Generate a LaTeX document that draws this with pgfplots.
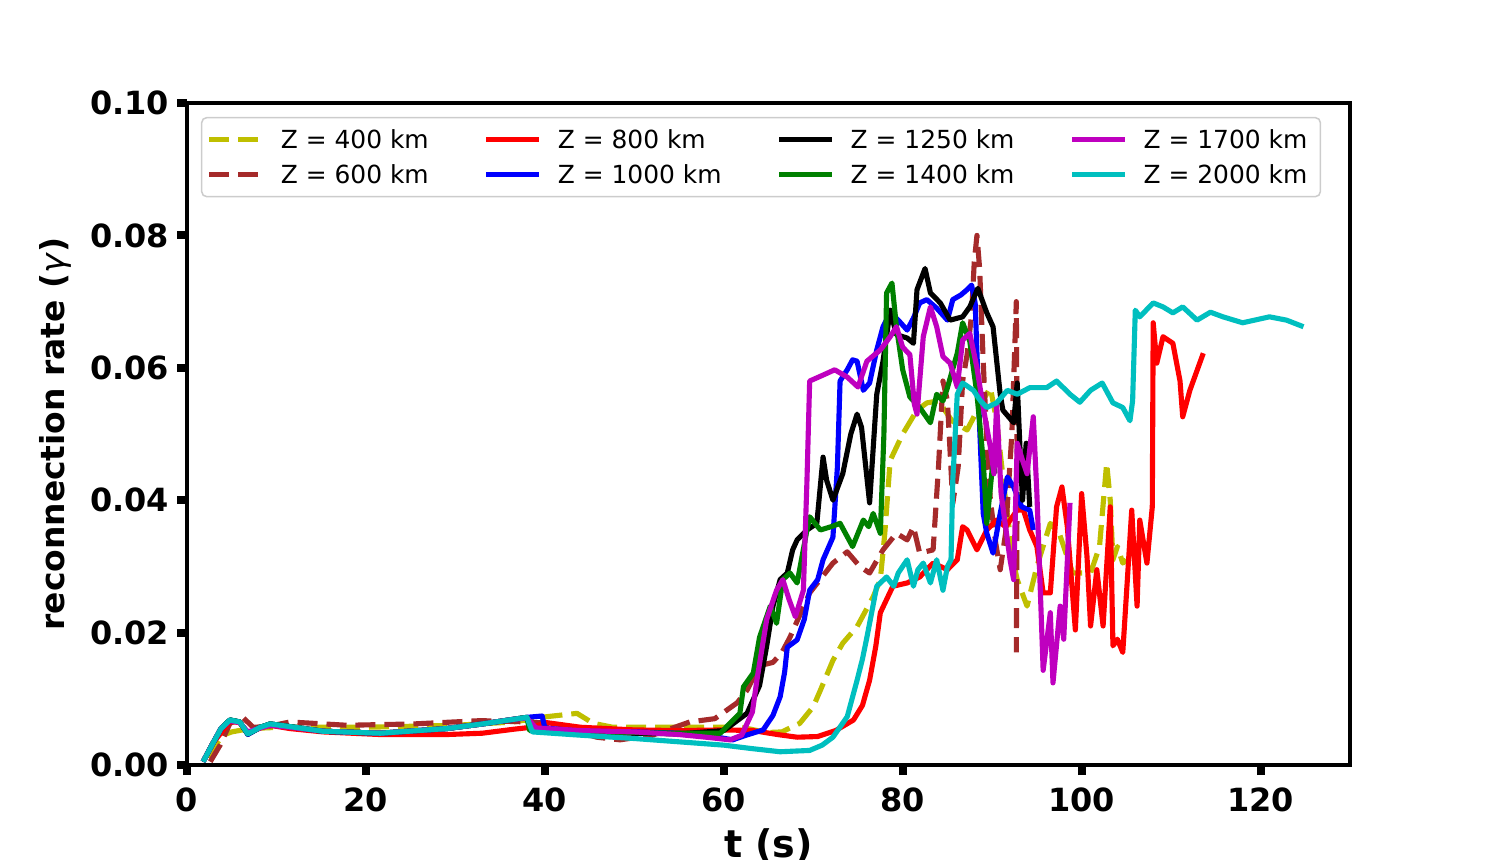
\documentclass[border=0pt]{standalone}
\usepackage{fontspec}
\setmainfont{DejaVu Sans}
\usepackage{pgfplots}
\pgfplotsset{compat=1.18}
\definecolor{cy}{rgb}{0.75,0.75,0}
\definecolor{brn}{RGB}{165,42,42}
\definecolor{grn}{RGB}{0,128,0}
\definecolor{mag}{rgb}{0.75,0,0.75}
\definecolor{cyn}{rgb}{0,0.75,0.75}
\begin{document}
\begin{tikzpicture}
\begin{axis}[
  at={(1.87in,0.95in)}, anchor=south west,
  scale only axis, width=11.63in, height=6.62in,
  xmin=0, xmax=130, ymin=0, ymax=0.1,
  xtick={0,20,...,120}, ytick={0,0.02,...,0.1},
  scaled y ticks=false,
  yticklabel style={/pgf/number format/fixed, /pgf/number format/fixed zerofill, /pgf/number format/precision=2, /tikz/xshift=-0.03in},
  xticklabel style={/tikz/yshift=-0.08in},
  /pgf/number format/assume math mode=true,
  ticklabel style={font=\fontsize{23.1}{27}\selectfont\bfseries},
  axis line style={line width=3.1pt},
  tick align=outside, major tick length=0.1in,
  every tick/.style={line width=0.08in, black},
  xtick pos=bottom, ytick pos=left,
  xlabel={t (s)}, ylabel={reconnection rate (\textmd{\textit{γ}})},
  xlabel style={font=\fontsize{27.5}{32}\selectfont\bfseries, at={(axis description cs:0.5,-0.121)}, anchor=center},
  ylabel style={font=\fontsize{23.8}{28}\selectfont\bfseries, at={(axis description cs:-0.1135,0.5)}, anchor=center, rotate=0},
  every axis plot/.append style={line width=3.7pt, line join=round},
  legend columns=4,
  legend cell align=left,
  legend image code/.code={\draw[#1] (0in,0in) -- (0.53in,0in); \path (0.61in,0in);},
  legend style={at={(0.012,0.979)}, anchor=north west, font=\fontsize{18}{22}\selectfont,
    draw=black!20, line width=1.1pt, rounded corners=0.05in, fill=white,
    inner xsep=0.05in, inner ysep=0.065in, row sep=0.04in,
    nodes={inner xsep=0.08in, inner ysep=0.05in},
    /tikz/every even column/.append style={column sep=0.47in}},
]
% Z = 400 km
\addplot[cy, dash pattern=on 0.2in off 0.09in, forget plot] coordinates {
(2.5,0.001)(3.2,0.003)(4,0.0045)(5,0.005)(7,0.0055)(10.4,0.0057)(20,0.0057)(30,0.006)(36.5,0.0065)(40.2,0.0073)(43.6,0.0078)(45.4,0.0063)(47.6,0.0057)(55,0.0057)(62,0.0057)(64.8,0.0049)(66.5,0.005)(68.5,0.0063)(70,0.0088)(70.8,0.0113)(72.2,0.0158)(73.3,0.0184)(74.9,0.0209)(76.7,0.0254)(77.5,0.028)(78,0.035)(78.6,0.046)(80,0.050)(81.6,0.0536)(82.7,0.0547)(84,0.055)(85.5,0.052)(87.2,0.0506)(88.5,0.054)(89.8,0.057)(90.5,0.052)(91.5,0.040)(92.4,0.0305)(92.8,0.028)(93.9,0.024)(95,0.030)(96.5,0.0365)(97.5,0.035)(99,0.029)(101,0.029)(102,0.033)(102.8,0.0456)(103.2,0.040)(103.5,0.031)(104,0.033)(104.6,0.0305)(105,0.031)
};
% Z = 600 km
\addplot[brn, dash pattern=on 0.2in off 0.09in, forget plot] coordinates {
(2.6,0.0005)(3.7,0.003)(4.8,0.0063)(6.3,0.0071)(7.4,0.0057)(9,0.0058)(11.5,0.0065)(17.9,0.006)(25.3,0.0062)(32.8,0.0067)(38.3,0.0065)(40.2,0.0063)(45.8,0.0042)(48.4,0.0038)(52,0.0045)(56.2,0.0065)(59,0.007)(61.5,0.0094)(62.6,0.0113)(64,0.015)(65.5,0.0155)(66.5,0.017)(67.4,0.0193)(69.6,0.026)(72.2,0.0305)(73.8,0.0322)(75.2,0.030)(76.3,0.029)(77.8,0.0325)(79.3,0.035)(80.5,0.034)(81.2,0.036)(81.9,0.032)(83.4,0.0325)(84,0.045)(84.5,0.058)(85,0.055)(85.6,0.0395)(86.2,0.045)(86.7,0.058)(87.2,0.062)(87.7,0.068)(88,0.076)(88.3,0.080)(88.6,0.075)(89,0.061)(89.4,0.049)(89.8,0.040)(90.4,0.0335)(90.9,0.0295)(91.5,0.035)(92.2,0.050)(92.7,0.070)(92.8,0.045)(92.7,0.017)
};
% Z = 800 km
\addplot[red, forget plot] coordinates {
(1.8,0.0005)(2.9,0.0033)(4.8,0.0066)(5.9,0.0064)(6.8,0.0048)(8.2,0.0056)(9.3,0.006)(11.5,0.0055)(15.2,0.005)(21.6,0.0046)(29,0.0046)(33,0.0048)(36.5,0.0054)(38.5,0.0057)(40.2,0.0064)(44,0.0057)(50,0.0053)(55,0.0052)(60,0.0053)(63.3,0.0052)(66,0.0046)(68.2,0.0042)(70.5,0.0043)(72.5,0.0052)(74.5,0.0068)(75.5,0.009)(76.3,0.0128)(77,0.018)(77.5,0.023)(78.9,0.027)(80.5,0.0275)(81.9,0.0284)(83.4,0.0305)(85,0.0295)(86.1,0.031)(86.7,0.036)(87.2,0.0355)(88.3,0.0325)(89.4,0.0355)(90.5,0.037)(91.5,0.036)(92.8,0.0385)(93.5,0.0385)(94.2,0.0355)(95,0.033)(95.7,0.026)(96.5,0.026)(97.2,0.039)(97.8,0.042)(98.4,0.036)(99.3,0.0204)(100,0.041)(100.6,0.0315)(101,0.021)(101.7,0.0295)(102.4,0.021)(103.2,0.039)(103.5,0.018)(104,0.019)(104.6,0.017)(105.6,0.0385)(106.2,0.024)(106.5,0.037)(107.3,0.0305)(107.9,0.039)(108,0.0668)(108.4,0.0607)(109.1,0.0647)(110.2,0.0637)(111,0.058)(111.3,0.0526)(112.1,0.0566)(113.6,0.0622)
};
% Z = 1000 km
\addplot[blue, forget plot] coordinates {
(1.8,0.0005)(2.9,0.0033)(3.8,0.0055)(4.8,0.0068)(5.9,0.0065)(6.8,0.0046)(8.2,0.0057)(9.3,0.0062)(11.5,0.0058)(15.2,0.0051)(21.6,0.0048)(29,0.0055)(33,0.0062)(36.5,0.0069)(38,0.0072)(39.7,0.0074)(40,0.0056)(44,0.0051)(50,0.005)(55,0.0048)(58,0.0045)(61,0.0038)(62.5,0.0045)(64.4,0.0053)(65.5,0.0075)(66.3,0.0103)(66.8,0.014)(67.1,0.0178)(68.2,0.0189)(69,0.022)(69.6,0.0264)(70.5,0.028)(71.1,0.031)(72.2,0.0344)(72.7,0.045)(73,0.058)(73.8,0.0597)(74.4,0.0612)(74.9,0.061)(75.6,0.0566)(76.3,0.0577)(77.1,0.0627)(77.8,0.0662)(78.6,0.0683)(79.5,0.0672)(80.5,0.0657)(81.2,0.0675)(81.9,0.0698)(82.7,0.0703)(83.8,0.069)(85,0.0672)(85.6,0.0703)(86.5,0.071)(87.2,0.0718)(87.7,0.0725)(88.1,0.0698)(88.6,0.051)(89,0.038)(89.4,0.035)(90.1,0.032)(90.9,0.038)(91.7,0.0435)(92.4,0.042)(93.3,0.039)(94.2,0.0385)(94.6,0.0355)
};
% Z = 1250 km
\addplot[black, forget plot] coordinates {
(1.8,0.0005)(2.9,0.0033)(3.8,0.0055)(4.8,0.0068)(5.9,0.0065)(6.8,0.0047)(8.2,0.0057)(9.3,0.0062)(11.5,0.0058)(15.2,0.0051)(21.6,0.0048)(29,0.0055)(33,0.0062)(36.5,0.0069)(38,0.0072)(38.4,0.0052)(44,0.0049)(50,0.0048)(55,0.0047)(60,0.0052)(62.6,0.0078)(64,0.012)(64.8,0.018)(65.5,0.024)(66.3,0.028)(67.1,0.029)(67.7,0.0325)(68.2,0.034)(69.3,0.0355)(70.4,0.0365)(71.1,0.0465)(71.5,0.043)(72.2,0.040)(73.3,0.044)(74.2,0.050)(74.9,0.053)(75.4,0.051)(76.3,0.0396)(77.1,0.056)(77.8,0.061)(78.6,0.0687)(79.3,0.065)(80.5,0.0645)(81.2,0.0637)(81.6,0.0718)(82.5,0.075)(83.1,0.0713)(84.2,0.0698)(85.3,0.0672)(86.7,0.0677)(87.5,0.0692)(88.4,0.072)(89.4,0.0683)(90.1,0.0662)(90.9,0.056)(91.2,0.0536)(92.4,0.0517)(92.8,0.0577)(93.2,0.045)(93.4,0.040)(93.8,0.0486)(94.2,0.039)
};
% Z = 1400 km
\addplot[grn, forget plot] coordinates {
(1.8,0.0005)(2.9,0.0033)(3.8,0.0055)(4.8,0.0068)(5.9,0.0065)(6.8,0.0047)(8.2,0.0057)(9.3,0.0062)(11.5,0.0058)(15.2,0.0051)(21.6,0.0048)(29,0.0055)(33,0.0062)(36.5,0.0069)(38,0.0072)(38.3,0.0052)(44,0.005)(50,0.0049)(55,0.0048)(59.6,0.0048)(61.8,0.0078)(62.2,0.0118)(63.3,0.0139)(64,0.0193)(65.2,0.024)(65.9,0.0214)(66.6,0.028)(67.4,0.029)(68.2,0.0275)(69.3,0.0355)(69.6,0.0375)(70.8,0.0355)(72,0.036)(73,0.0365)(74.4,0.033)(75.6,0.037)(76.2,0.036)(76.7,0.038)(77.5,0.035)(77.9,0.050)(78.2,0.0713)(78.8,0.0728)(79.3,0.0662)(80,0.0597)(80.8,0.0556)(81.9,0.054)(83.1,0.0517)(83.8,0.056)(84.5,0.055)(85,0.057)(86.1,0.0622)(86.7,0.0668)(87.5,0.064)(88.3,0.056)(89,0.046)(89.4,0.0365)(90.1,0.046)(90.3,0.044)
};
% Z = 1700 km
\addplot[mag, forget plot] coordinates {
(1.8,0.0005)(2.9,0.0033)(3.8,0.0055)(4.8,0.0067)(5.9,0.0064)(6.8,0.005)(8.2,0.0056)(9.3,0.006)(11.5,0.0057)(15.2,0.0051)(21.6,0.0048)(29,0.0055)(33,0.0062)(36.5,0.0069)(38,0.0071)(39,0.0056)(44,0.0052)(50,0.005)(55,0.0046)(58,0.0042)(60.7,0.0038)(62,0.0045)(63.2,0.008)(63.7,0.0128)(64.8,0.022)(65.9,0.0264)(66.6,0.028)(67.3,0.025)(68,0.0224)(68.9,0.0264)(69.3,0.043)(69.6,0.058)(71.1,0.0589)(72.4,0.0597)(73.8,0.0586)(75,0.0571)(76,0.061)(77.5,0.0627)(78.6,0.0647)(79.3,0.0662)(80,0.0631)(80.8,0.062)(81.3,0.0545)(81.6,0.053)(82.3,0.0647)(83.1,0.0692)(83.8,0.0662)(84.5,0.0617)(85.3,0.0607)(86.1,0.0571)(86.7,0.0642)(87.5,0.0652)(88.3,0.060)(89,0.054)(89.8,0.048)(90.2,0.044)(90.5,0.0546)(91,0.041)(92,0.031)(92.4,0.028)(92.8,0.0486)(93.4,0.046)(93.9,0.044)(94.6,0.0526)(95,0.041)(95.7,0.0143)(96.5,0.023)(96.8,0.0124)(97.6,0.024)(98,0.019)(98.7,0.0396)
};
% Z = 2000 km
\addplot[cyn, forget plot] coordinates {
(1.8,0.0005)(2.9,0.0033)(3.8,0.0055)(4.8,0.0068)(5.9,0.0065)(6.8,0.0047)(8.2,0.0057)(9.3,0.0062)(11.5,0.0058)(15.2,0.0051)(21.6,0.0048)(29,0.0055)(33,0.0062)(36.5,0.0069)(38,0.0072)(38.6,0.005)(44,0.0045)(50,0.004)(55,0.0035)(60,0.003)(63,0.0025)(66.3,0.002)(69.6,0.0022)(71,0.003)(72.2,0.0042)(73.8,0.0073)(74.9,0.0128)(75.5,0.016)(76,0.0193)(77.1,0.027)(78.2,0.0284)(79,0.027)(79.5,0.029)(80.5,0.031)(81.2,0.027)(81.7,0.0295)(82.3,0.0305)(83.1,0.0275)(83.8,0.031)(84.5,0.0264)(85,0.030)(85.4,0.031)(85.6,0.043)(86.1,0.056)(86.7,0.0577)(87.9,0.0566)(88.7,0.055)(89.4,0.054)(90.5,0.0547)(91.7,0.0566)(92.8,0.056)(94.2,0.057)(96.1,0.057)(97.2,0.058)(98.7,0.056)(99.8,0.0548)(101,0.0566)(102.3,0.0577)(103.5,0.0547)(104.6,0.054)(105.4,0.052)(105.7,0.055)(106,0.0687)(106.5,0.0677)(108,0.0698)(109.1,0.0692)(110.2,0.0683)(111.3,0.0692)(112.9,0.0672)(114.4,0.0684)(115.8,0.0677)(118,0.0668)(121,0.0677)(122.9,0.0672)(124.8,0.0662)
};
\addlegendimage{cy, line width=3.7pt, dash pattern=on 0.2in off 0.09in}
\addlegendentry{Z = 400 km}
\addlegendimage{red, line width=3.7pt}
\addlegendentry{Z = 800 km}
\addlegendimage{black, line width=3.7pt}
\addlegendentry{Z = 1250 km}
\addlegendimage{mag, line width=3.7pt}
\addlegendentry{Z = 1700 km}
\addlegendimage{brn, line width=3.7pt, dash pattern=on 0.2in off 0.09in}
\addlegendentry{Z = 600 km}
\addlegendimage{blue, line width=3.7pt}
\addlegendentry{Z = 1000 km}
\addlegendimage{grn, line width=3.7pt}
\addlegendentry{Z = 1400 km}
\addlegendimage{cyn, line width=3.7pt}
\addlegendentry{Z = 2000 km}
\end{axis}
\pgfresetboundingbox
\path (0,0) rectangle (15in,8.6in);
\end{tikzpicture}
\end{document}
